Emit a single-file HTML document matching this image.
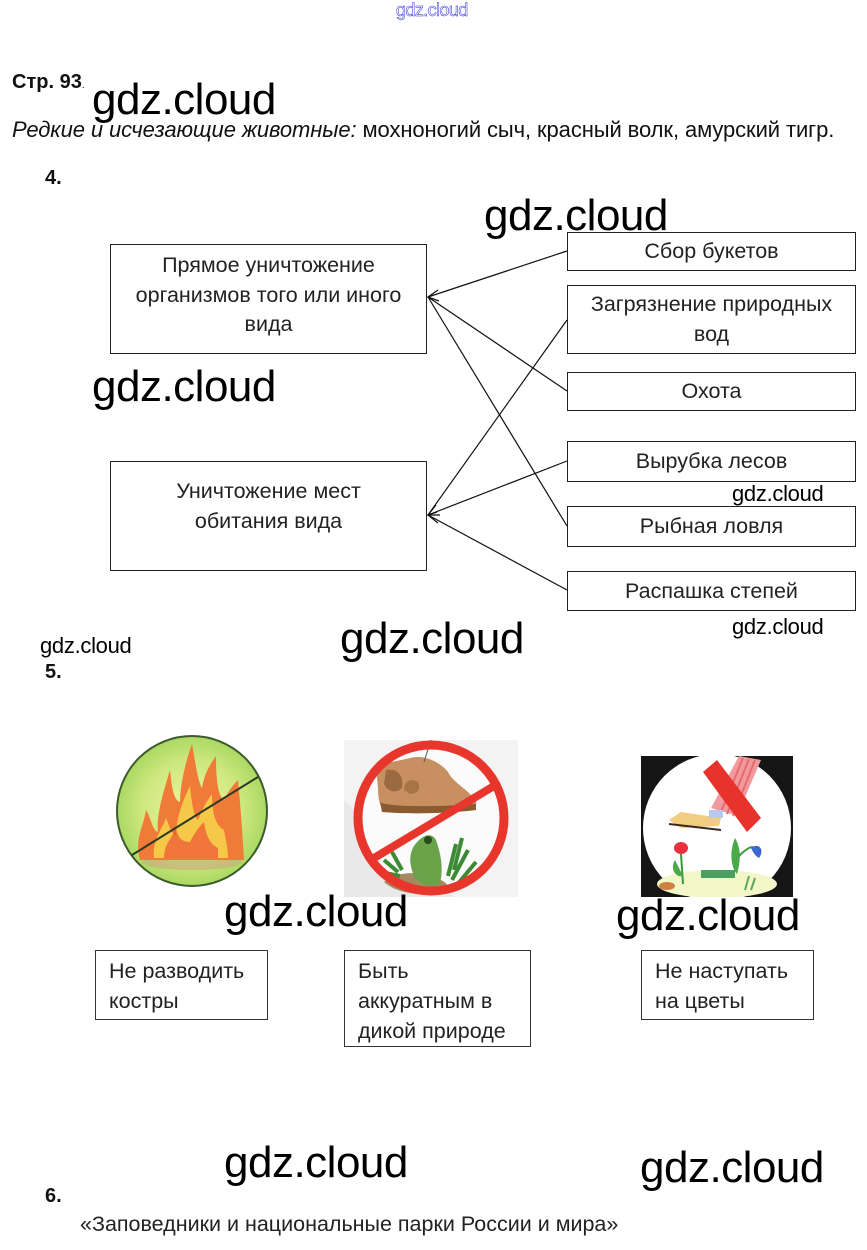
<!DOCTYPE html>
<html>
<head>
<meta charset="utf-8">
<style>
html,body{margin:0;padding:0;background:#fff;}
body{width:867px;height:1250px;position:relative;overflow:hidden;font-family:"Liberation Sans",Arial,sans-serif;color:#111;}
.a{position:absolute;white-space:nowrap;}
.wm{position:absolute;font-family:"Liberation Sans",sans-serif;font-size:44px;line-height:1;color:#000;letter-spacing:-0.5px;white-space:nowrap;}
.wms{position:absolute;font-family:"Liberation Sans",sans-serif;font-size:22px;line-height:1;color:#000;letter-spacing:-0.3px;white-space:nowrap;}
.box{position:absolute;border:1.5px solid #222;box-sizing:border-box;text-align:center;font-size:21.5px;line-height:29.5px;color:#222;}
.tb{position:absolute;border:1px solid #333;box-sizing:border-box;font-size:21.5px;line-height:30px;color:#222;padding:5px 0 0 13px;}
.num{position:absolute;font-weight:bold;font-size:20px;color:#111;}
</style>
</head>
<body>
<div class="a" style="left:396px;top:0px;font-size:18px;color:#fff;-webkit-text-stroke:0.5px #2a2ad0;letter-spacing:-0.6px;">gdz.cloud</div>

<div class="a" style="left:12px;top:71px;font-size:20px;font-weight:bold;">Стр. 93<span style="font-weight:normal;font-size:10px;">.</span></div>
<div class="a" style="left:12px;top:117px;font-size:22px;letter-spacing:-0.1px;"><i>Редкие и исчезающие животные:</i> мохноногий сыч, красный волк, амурский тигр.</div>

<div class="num" style="left:45px;top:167px;">4.</div>

<div class="box" style="left:110px;top:244px;width:317px;height:110px;padding-top:6px;">Прямое уничтожение<br>организмов того или иного<br>вида</div>
<div class="box" style="left:110px;top:461px;width:317px;height:110px;padding-top:15px;">Уничтожение мест<br>обитания вида</div>

<div class="box" style="left:567px;top:232px;width:289px;height:39px;line-height:37px;">Сбор букетов</div>
<div class="box" style="left:567px;top:285px;width:289px;height:69px;padding-top:4px;">Загрязнение природных<br>вод</div>
<div class="box" style="left:567px;top:372px;width:289px;height:39px;line-height:37px;">Охота</div>
<div class="box" style="left:567px;top:441px;width:289px;height:41px;line-height:39px;">Вырубка лесов</div>
<div class="box" style="left:567px;top:506px;width:289px;height:41px;line-height:39px;">Рыбная ловля</div>
<div class="box" style="left:567px;top:571px;width:289px;height:40px;line-height:38px;">Распашка степей</div>

<svg class="a" style="left:0;top:0;" width="867" height="700">
<g stroke="#111" stroke-width="1.2" fill="none">
<line x1="567" y1="251" x2="428" y2="297"/>
<line x1="567" y1="391" x2="428" y2="297"/>
<line x1="567" y1="526" x2="428" y2="297"/>
<line x1="567" y1="320" x2="428" y2="515"/>
<line x1="567" y1="461" x2="428" y2="515"/>
<line x1="567" y1="590" x2="428" y2="515"/>
<polyline points="438,290 428,297 439,301"/>
<polyline points="436,505 428,515 440,515"/>
<polyline points="437,512 428,515 438,523"/>
</g>
</svg>

<div class="num" style="left:45px;top:661px;">5.</div>

<!-- fire sign -->
<svg class="a" style="left:110px;top:730px;" width="165" height="165">
<defs>
<radialGradient id="gf" cx="50%" cy="50%" r="55%">
<stop offset="0" stop-color="#eef5a0"/>
<stop offset="0.6" stop-color="#cfe880"/>
<stop offset="1" stop-color="#9fd45a"/>
</radialGradient>
</defs>
<circle cx="82" cy="81" r="75" fill="url(#gf)" stroke="#3c5a2a" stroke-width="2"/>
<ellipse cx="82" cy="132" rx="50" ry="8" fill="#c9a880" opacity="0.6"/>
<path d="M30,130 C24,110 34,95 36,80 C42,90 42,100 48,102 C46,85 54,60 60,40 C62,60 64,70 70,72 C70,55 76,30 82,14 C86,36 88,52 92,58 C94,45 100,34 106,26 C106,50 108,66 114,70 C118,62 122,56 128,50 C130,72 132,95 134,130 Z" fill="#f07a38"/>
<path d="M44,128 C42,110 52,100 56,88 C60,98 62,104 66,106 C66,90 72,72 80,56 C82,76 84,86 88,90 C92,80 96,72 102,64 C102,84 106,96 114,100 C116,110 118,120 118,128 Z" fill="#f6c848"/>
<path d="M54,128 C54,114 62,108 66,98 C68,110 74,112 80,112 C84,104 88,98 94,92 C96,106 100,114 108,118 L108,128 Z" fill="#ee5a36" opacity="0.75"/>
<line x1="22" y1="125" x2="148" y2="47" stroke="#2d3a22" stroke-width="2"/>
</svg>

<!-- shoe sign -->
<svg class="a" style="left:344px;top:740px;" width="174" height="157">
<rect x="0" y="0" width="174" height="157" fill="#e9e9ea"/>
<polygon points="0,0 174,0 174,157 110,157 0,60" fill="#f3f3f4"/>
<circle cx="87" cy="78" r="77" fill="#fbfbfb"/>
<path d="M32,28 C40,22 60,20 66,18 C80,14 96,22 104,32 C110,44 126,50 132,62 C134,70 120,72 100,70 C80,70 60,68 44,70 C36,70 34,60 34,48 Z" fill="#c89060"/>
<path d="M36,62 C40,66 80,68 132,64 L132,70 C100,74 60,74 38,72 Z" fill="#8a5a30"/>
<path d="M42,30 C52,28 60,34 58,48 C52,54 44,52 40,44 Z" fill="#9a6a40"/>
<path d="M60,50 C60,40 68,38 74,42 C78,50 72,54 66,54 Z" fill="#a87444"/>
<line x1="87" y1="0" x2="80" y2="22" stroke="#555" stroke-width="1"/>
<path d="M40,142 C52,132 72,130 92,138 C104,142 108,148 96,152 C76,156 54,154 40,142 Z" fill="#a48a60"/>
<path d="M70,106 C78,94 88,92 92,100 C96,112 100,126 96,144 C88,148 76,146 70,136 C66,126 64,116 70,106 Z" fill="#6aa24a"/>
<circle cx="84" cy="100" r="4" fill="#2a4a1a"/>
<path d="M40,120 L54,132 M36,132 L56,136 M48,112 L58,130 M112,104 L104,136 M124,110 L108,140 M132,122 L112,146 M118,98 L110,130" stroke="#3d8a34" stroke-width="4"/>
<circle cx="87" cy="78" r="73" fill="none" stroke="#e8362c" stroke-width="9"/>
<line x1="30" y1="118" x2="150" y2="46" stroke="#e8362c" stroke-width="8"/>
</svg>

<!-- flower sign -->
<svg class="a" style="left:641px;top:756px;" width="152" height="141">
<rect x="0" y="0" width="152" height="141" fill="#151515"/>
<circle cx="76" cy="72" r="74" fill="#fff"/>
<ellipse cx="76" cy="128" rx="60" ry="14" fill="#f3f6c8"/>
<polygon points="98,0 120,4 96,60 70,52" fill="#f09aa0"/>
<path d="M102,2 L80,56 M108,3 L86,58 M114,4 L92,60" stroke="#e86a6a" stroke-width="2"/>
<polygon points="62,16 76,4 120,62 106,76" fill="#e8322c"/>
<polygon points="28,64 40,56 80,62 78,70 40,72" fill="#f2cc80"/>
<line x1="28" y1="68" x2="80" y2="74" stroke="#3a2a1a" stroke-width="2"/>
<rect x="68" y="54" width="14" height="8" fill="#b8c8f0"/>
<ellipse cx="40" cy="92" rx="7" ry="6" fill="#e83040"/>
<path d="M40,98 L42,128" stroke="#3a9a3a" stroke-width="2"/>
<path d="M34,104 C28,114 36,122 42,120 Z" fill="#4aaa4a"/>
<path d="M94,82 C88,96 90,112 96,118 C100,104 100,92 94,82 Z" fill="#4aaa4a"/>
<path d="M98,100 C106,92 112,88 116,94" stroke="#3a9a3a" stroke-width="2" fill="none"/>
<path d="M110,92 C118,86 124,94 118,102 C114,100 112,96 110,92 Z" fill="#3a6ad0"/>
<rect x="60" y="114" width="34" height="8" fill="#4aa060"/>
<ellipse cx="26" cy="130" rx="8" ry="4" fill="#d08040"/>
<path d="M104,134 L108,120 M110,134 L114,122" stroke="#5aaa5a" stroke-width="2"/>
</svg>

<div class="tb" style="left:95px;top:950px;width:173px;height:70px;">Не разводить<br>костры</div>
<div class="tb" style="left:344px;top:950px;width:187px;height:97px;">Быть<br>аккуратным в<br>дикой природе</div>
<div class="tb" style="left:641px;top:950px;width:173px;height:70px;">Не наступать<br>на цветы</div>

<div class="num" style="left:45px;top:1185px;">6.</div>
<div class="a" style="left:80px;top:1212px;font-size:21.5px;color:#222;">«Заповедники и национальные парки России и мира»</div>

<!-- watermarks -->
<div class="wm" style="left:92px;top:78px;">gdz.cloud</div>
<div class="wm" style="left:484px;top:194px;">gdz.cloud</div>
<div class="wm" style="left:92px;top:365px;">gdz.cloud</div>
<div class="wms" style="left:732px;top:483px;">gdz.cloud</div>
<div class="wms" style="left:40px;top:635px;">gdz.cloud</div>
<div class="wm" style="left:340px;top:617px;">gdz.cloud</div>
<div class="wms" style="left:732px;top:616px;">gdz.cloud</div>
<div class="wm" style="left:224px;top:890px;">gdz.cloud</div>
<div class="wm" style="left:616px;top:894px;">gdz.cloud</div>
<div class="wm" style="left:224px;top:1141px;">gdz.cloud</div>
<div class="wm" style="left:640px;top:1146px;">gdz.cloud</div>
</body>
</html>
